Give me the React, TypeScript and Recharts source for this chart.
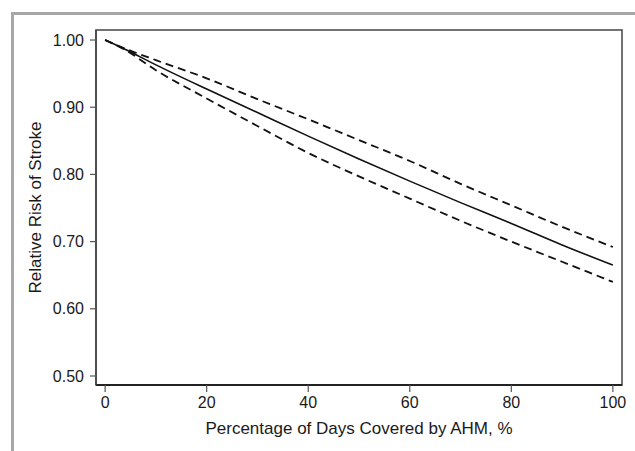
import { LineChart, Line, XAxis, YAxis, ReferenceArea, Label } from 'recharts';

const pdc = [0, 4, 10, 20, 30, 40, 50, 60, 70, 80, 90, 100];
const relativeRisk = [1.0, 0.986, 0.963, 0.927, 0.892, 0.857, 0.823, 0.79, 0.758, 0.727, 0.695, 0.665];
const upperCI = [1.0, 0.987, 0.97, 0.943, 0.912, 0.882, 0.851, 0.82, 0.786, 0.754, 0.722, 0.692];
const lowerCI = [1.0, 0.985, 0.955, 0.913, 0.872, 0.832, 0.797, 0.764, 0.731, 0.7, 0.67, 0.64];

const xTicks = [0, 20, 40, 60, 80, 100];
const yTicks = [0.5, 0.6, 0.7, 0.8, 0.9, 1.0];

const X_DOMAIN: [number, number] = [-1.8, 101.8];
const Y_DOMAIN: [number, number] = [0.4866, 1.0149];

const FONT = 'Arial, "Liberation Sans", Helvetica, sans-serif';
const TEXT = '#1a1a1a';

const data = pdc.map((x, i) => ({
  x,
  rr: relativeRisk[i],
  hi: upperCI[i],
  lo: lowerCI[i],
}));

export default function App() {
  return (
    <div style={{ position: 'absolute', left: 0, top: 0, width: 635, height: 451, background: '#fff', fontFamily: FONT }}>
      {/* grey page frame */}
      <div
        style={{
          position: 'absolute',
          left: 11,
          top: 12,
          width: 640,
          height: 460,
          borderTop: '3px solid #a7a7a7',
          borderLeft: '3px solid #a7a7a7',
        }}
      />
      <LineChart
        width={635}
        height={451}
        data={data}
        margin={{ top: 30, right: 13, bottom: 16, left: 0 }}
        style={{ position: 'absolute', left: 0, top: 0 }}
      >
        <XAxis
          dataKey="x"
          type="number"
          domain={X_DOMAIN}
          ticks={xTicks}
          allowDataOverflow
          height={50}
          tickSize={7}
          tickMargin={5}
          axisLine={{ stroke: '#222', strokeWidth: 2 }}
          tickLine={{ stroke: '#555', strokeWidth: 1.2 }}
          tick={{ fill: TEXT, fontSize: 16, fontFamily: FONT }}
        >
          <Label
            content={({ viewBox }: any) => (
              <text
                x={viewBox.x + viewBox.width / 2}
                y={viewBox.y + 49}
                textAnchor="middle"
                fill={TEXT}
                fontSize={17}
                fontFamily={FONT}
              >
                Percentage of Days Covered by AHM, %
              </text>
            )}
          />
        </XAxis>
        <YAxis
          type="number"
          domain={Y_DOMAIN}
          ticks={yTicks}
          allowDataOverflow
          width={96}
          tickSize={6}
          tickMargin={6}
          tickFormatter={(v: number) => v.toFixed(2)}
          axisLine={{ stroke: '#444', strokeWidth: 1.5 }}
          tickLine={{ stroke: '#555', strokeWidth: 1.2 }}
          tick={{ fill: TEXT, fontSize: 16, fontFamily: FONT }}
        >
          <Label
            content={({ viewBox }: any) => {
              const cx = viewBox.x + 41;
              const cy = viewBox.y + viewBox.height / 2;
              return (
                <text
                  x={cx}
                  y={cy}
                  transform={`rotate(-90 ${cx} ${cy})`}
                  textAnchor="middle"
                  fill={TEXT}
                  fontSize={17}
                  fontFamily={FONT}
                >
                  Relative Risk of Stroke
                </text>
              );
            }}
          />
        </YAxis>
        <ReferenceArea
          x1={X_DOMAIN[0]}
          x2={X_DOMAIN[1]}
          y1={Y_DOMAIN[0]}
          y2={Y_DOMAIN[1]}
          fill="none"
          stroke="#444"
          strokeWidth={1.5}
        />
        <Line
          dataKey="hi"
          type="monotone"
          stroke="#111"
          strokeWidth={1.8}
          strokeDasharray="8 5"
          dot={false}
          isAnimationActive={false}
        />
        <Line
          dataKey="lo"
          type="monotone"
          stroke="#111"
          strokeWidth={1.8}
          strokeDasharray="8 5"
          dot={false}
          isAnimationActive={false}
        />
        <Line
          dataKey="rr"
          type="monotone"
          stroke="#111"
          strokeWidth={1.6}
          dot={false}
          isAnimationActive={false}
        />
      </LineChart>
    </div>
  );
}
